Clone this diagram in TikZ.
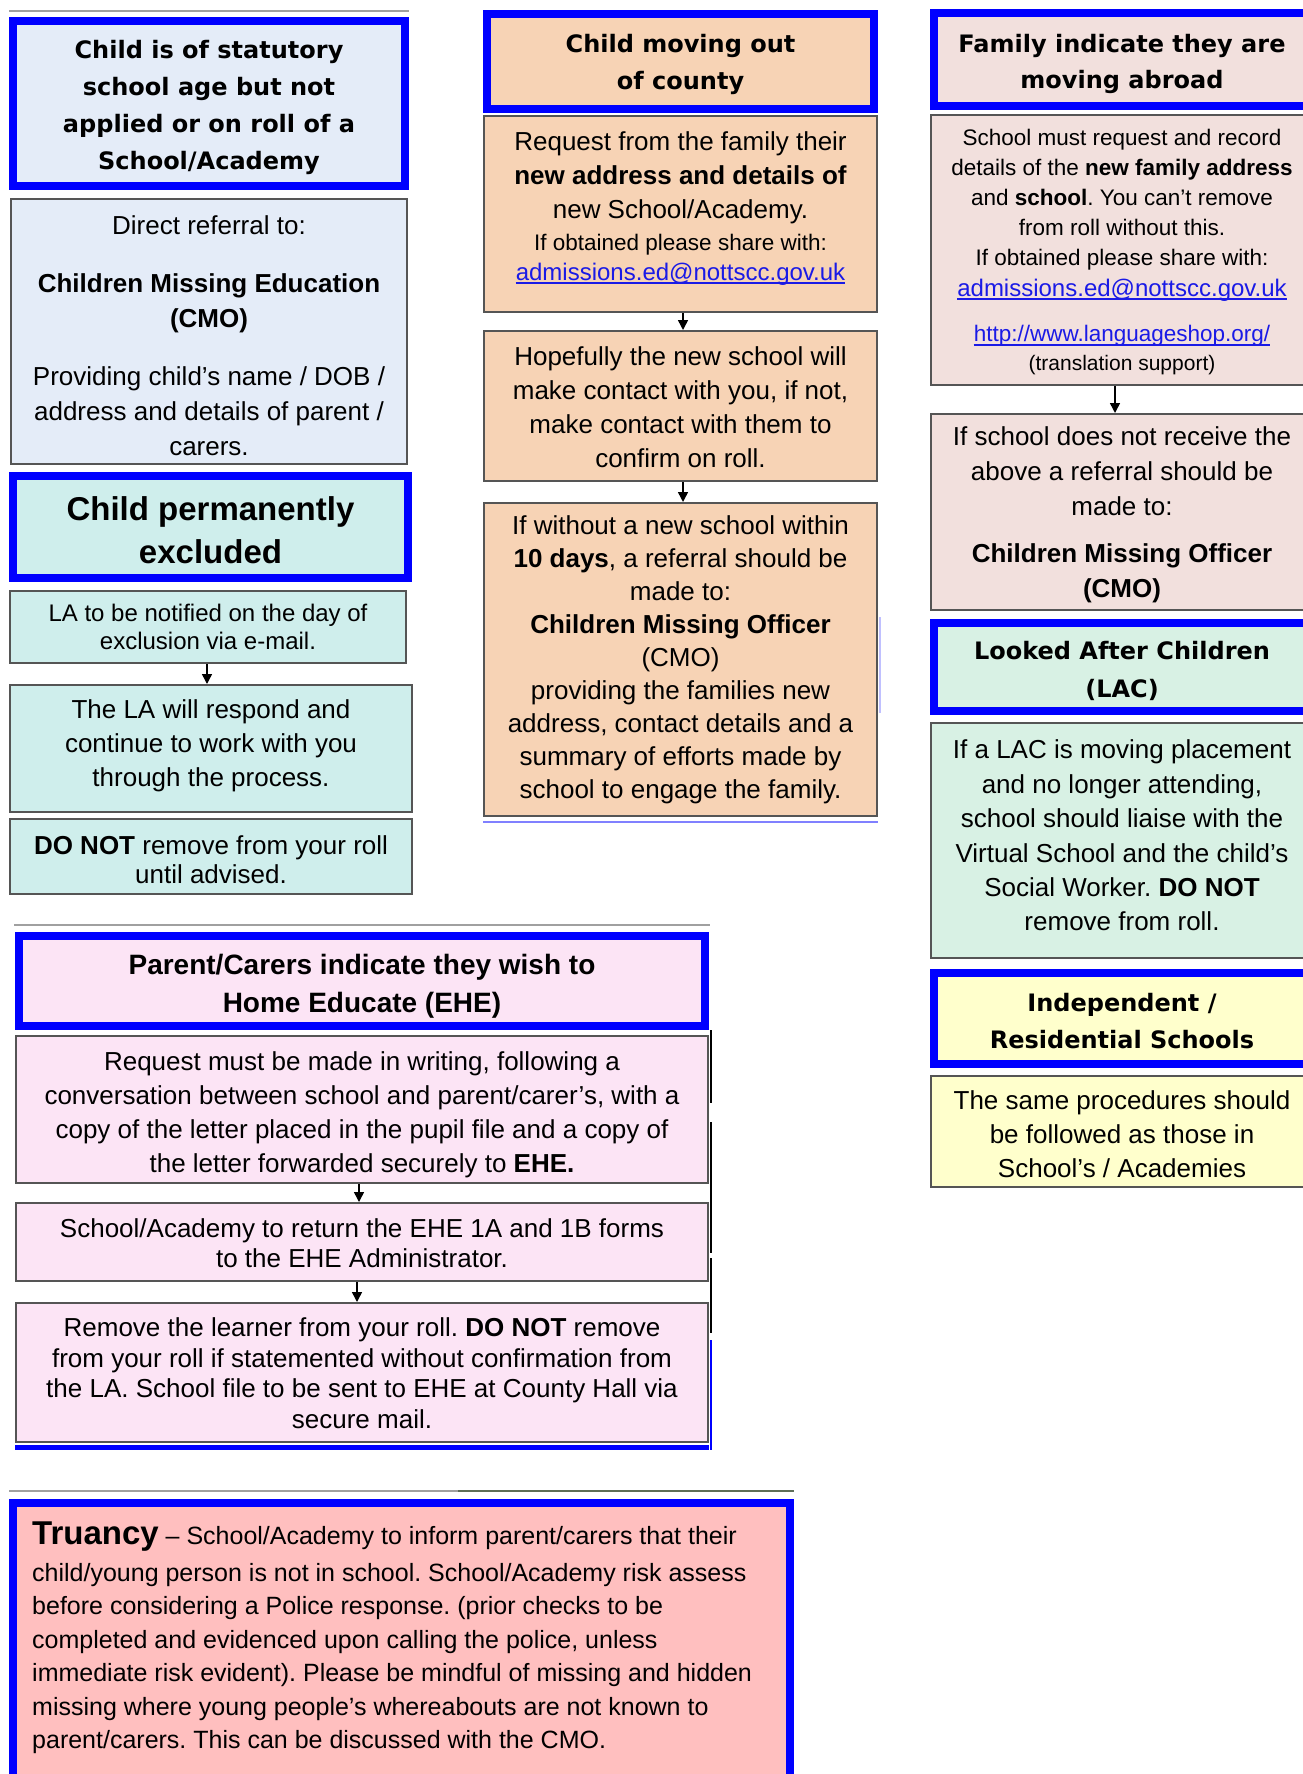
\documentclass[tikz,border=0pt]{standalone}
\usepackage{fontspec}
\setmainfont{Liberation Sans}
\newfontfamily\vfont{DejaVu Sans}
\usetikzlibrary{arrows.meta}
\newcommand\myfs[2]{\fontsize{#1}{#2}\selectfont}
\frenchspacing
\definecolor{hblue}{HTML}{0000FF}
\definecolor{bgray}{HTML}{555555}
\definecolor{cA}{HTML}{E4ECF8}
\definecolor{cT}{HTML}{CFEEEC}
\definecolor{cP}{HTML}{F7D3B5}
\definecolor{cR}{HTML}{F2E0DD}
\definecolor{cL}{HTML}{D8F1E4}
\definecolor{cY}{HTML}{FFFFCC}
\definecolor{cE}{HTML}{FCE4F5}
\definecolor{cTr}{HTML}{FFBFBF}
\definecolor{lnk}{HTML}{1A1AE6}
\definecolor{tgray}{HTML}{A0A0A0}
\definecolor{tgreen}{HTML}{5E6E58}
\definecolor{lblue}{HTML}{8080FF}
\tikzset{
 hbox/.style={draw=hblue, line width=8pt, rectangle, inner sep=0pt},
 cbox/.style={draw=bgray, line width=2pt, rectangle, inner sep=0pt},
 tx/.style={align=center, inner sep=0pt, text=black},
 hd/.style={align=center, inner sep=0pt, font=\vfont\bfseries\myfs{24}{37}},
 lk/.style={inner sep=0pt, text=lnk},
 arr/.style={line width=1.5pt, -{Triangle[width=10pt,length=10pt]}},
 sepline/.style={line width=2pt, tgray},
 uline/.style={line width=1.5pt, lnk},
}
\begin{document}
\frenchspacing
\begin{tikzpicture}[x=1pt,y=-1pt]
\useasboundingbox (0,0) rectangle (1303,1774);
\fill[white] (0,0) rectangle (1303,1774);
\clip (0,0) rectangle (1303,1774);

% ---------- Column 1 ----------
\draw[sepline] (9,11) -- (409,11);
\node[hbox, fill=cA, minimum width=392pt, minimum height=165pt] (A) at (209,103.5) {};
\node[hd] (At) at (209,107.5) {Child is of statutory\\school age but not\\applied or on roll of a\\School/Academy};

\node[cbox, fill=cA, minimum width=396pt, minimum height=265pt] (B) at (209,331.5) {};
\node[tx, font=\myfs{26}{35}] (Bt) at (209,335.5) {Direct referral to:\\[23pt]\textbf{Children Missing Education}\\\textbf{(CMO)}\\[23pt]Providing child’s name / DOB /\\address and details of parent /\\carers.};

\node[hbox, fill=cT, minimum width=395pt, minimum height=102pt] (C) at (210.5,527) {};
\node[tx, font=\bfseries\myfs{33}{43}] (Ct) at (210.5,530.5) {Child permanently\\excluded};

\node[cbox, fill=cT, minimum width=396pt, minimum height=72pt] (D) at (208,627) {};
\node[tx, font=\myfs{24}{28}] (Dt) at (208,627) {LA to be notified on the day of\\exclusion via e-mail.};

\node[cbox, fill=cT, minimum width=402pt, minimum height=127pt] (E) at (211,748.5) {};
\node[tx, font=\myfs{26}{34}] (Et) at (211,746) {The LA will respond and\\continue to work with you\\through the process.};
\draw[arr] (D.south -| 207,0) -- (E.north -| 207,0);

\node[cbox, fill=cT, minimum width=402pt, minimum height=75pt] (F) at (211,856.5) {};
\node[tx, font=\myfs{26}{29}] (Ft) at (211,859.5) {\textbf{DO NOT} remove from your roll\\until advised.};

% ---------- Column 2 ----------
\node[hbox, fill=cP, minimum width=387pt, minimum height=95pt] (G) at (680.5,61.5) {};
\node[hd] (Gt) at (680.5,64.5) {Child moving out\\of county};

\node[cbox, fill=cP, minimum width=393pt, minimum height=196pt] (H) at (680.5,214) {};
\node[tx, font=\myfs{26}{34}] (Ht) at (680.5,178) {Request from the family their\\\textbf{new address and details of}\\new School/Academy.};
\node[tx, font=\myfs{22.5}{26}] (Hs) at (680.5,245) {If obtained please share with:};
\node[lk, font=\myfs{24}{28}] (Hl) at (680.5,274) {admissions.ed@nottscc.gov.uk};
\draw[uline] ([yshift=-3pt]Hl.base west) -- ([yshift=-3pt]Hl.base east);

\node[cbox, fill=cP, minimum width=393pt, minimum height=150pt] (I) at (680.5,406) {};
\node[tx, font=\myfs{26}{34}] (It) at (680.5,407) {Hopefully the new school will\\make contact with you, if not,\\make contact with them to\\confirm on roll.};
\draw[arr] (H.south -| 683,0) -- (I.north -| 683,0);

\node[cbox, fill=cP, minimum width=393pt, minimum height=313pt] (J) at (680.5,659.5) {};
\node[tx, font=\myfs{26}{33}] (Jt) at (680.5,660) {If without a new school within\\\textbf{10 days}, a referral should be\\made to:\\\textbf{Children Missing Officer}\\(CMO)\\providing the families new\\address, contact details and a\\summary of efforts made by\\school to engage the family.};
\draw[arr] (I.south -| 683,0) -- (J.north -| 683,0);
\draw[line width=2pt, lblue] (483,822) -- (878,822);
\draw[line width=2pt, lblue!50] (880,617) -- (880,713);

% ---------- Column 3 ----------
\node[hbox, fill=cR, minimum width=376pt, minimum height=93pt] (K) at (1122,59.5) {};
\node[hd, font=\vfont\bfseries\myfs{24}{36}] (Kt) at (1122,64) {Family indicate they are\\moving abroad};

\node[cbox, fill=cR, minimum width=382pt, minimum height=270pt] (L) at (1122,250) {};
\node[tx, font=\myfs{22.5}{30}] (Lt) at (1122,200) {School must request and record\\details of the \textbf{new family address}\\and \textbf{school}. You can’t remove\\from roll without this.\\If obtained please share with:};
\node[lk, font=\myfs{24}{28}] (Ll) at (1122,290) {admissions.ed@nottscc.gov.uk};
\draw[uline] ([yshift=-3pt]Ll.base west) -- ([yshift=-3pt]Ll.base east);
\node[lk, font=\myfs{22.5}{26}] (Ll2) at (1122,336) {http://www.languageshop.org/};
\draw[uline] ([yshift=-3pt]Ll2.base west) -- ([yshift=-3pt]Ll2.base east);
\node[tx, font=\myfs{21}{25}] (Lt2) at (1122,365) {(translation support)};

\node[cbox, fill=cR, minimum width=382pt, minimum height=196pt] (M) at (1122,512) {};
\node[tx, font=\myfs{26}{35}] (Mt) at (1122,514.5) {If school does not receive the\\above a referral should be\\made to:\\[12pt]\textbf{Children Missing Officer}\\\textbf{(CMO)}};
\draw[arr] (L.south -| 1115,0) -- (M.north -| 1115,0);

\node[hbox, fill=cL, minimum width=376pt, minimum height=88pt] (N) at (1122,667) {};
\node[hd, font=\vfont\bfseries\myfs{24}{38}] (Nt) at (1122,671) {Looked After Children\\(LAC)};

\node[cbox, fill=cL, minimum width=382pt, minimum height=235pt] (O) at (1122,840.5) {};
\node[tx, font=\myfs{26}{34.4}] (Ot) at (1122,835.5) {If a LAC is moving placement\\and no longer attending,\\school should liaise with the\\Virtual School and the child’s\\Social Worker. \textbf{DO NOT}\\remove from roll.};

\node[hbox, fill=cY, minimum width=376pt, minimum height=91pt] (P) at (1122,1018.5) {};
\node[hd] (Pt) at (1122,1021.5) {Independent /\\Residential Schools};

\node[cbox, fill=cY, minimum width=382pt, minimum height=111pt] (Q) at (1122,1131.5) {};
\node[tx, font=\myfs{26}{34}] (Qt) at (1122,1134) {The same procedures should\\be followed as those in\\School’s / Academies};

% ---------- EHE ----------
\draw[sepline] (14,925) -- (710,925);
\node[hbox, fill=cE, minimum width=686pt, minimum height=90pt] (R) at (362,981) {};
\node[tx, font=\bfseries\myfs{28}{38}] (Rt) at (362,986) {Parent/Carers indicate they wish to\\Home Educate (EHE)};

\node[cbox, fill=cE, minimum width=692pt, minimum height=147pt] (S) at (362,1109.5) {};
\node[tx, font=\myfs{26}{34}] (St) at (362,1115) {Request must be made in writing, following a\\conversation between school and parent/carer’s, with a\\copy of the letter placed in the pupil file and a copy of\\the letter forwarded securely to \textbf{EHE.}};

\node[cbox, fill=cE, minimum width=692pt, minimum height=78pt] (T) at (362,1242) {};
\node[tx, font=\myfs{26}{30}] (Tt) at (362,1243) {School/Academy to return the EHE 1A and 1B forms\\to the EHE Administrator.};
\draw[arr] (S.south -| 359,0) -- (T.north -| 359,0);

\node[cbox, fill=cE, minimum width=692pt, minimum height=139pt] (U) at (362,1372.5) {};
\node[tx, font=\myfs{26}{30.5}] (Ut) at (362,1373) {Remove the learner from your roll. \textbf{DO NOT} remove\\from your roll if statemented without confirmation from\\the LA. School file to be sent to EHE at County Hall via\\secure mail.};
\draw[arr] (T.south -| 357,0) -- (U.north -| 357,0);
\draw[line width=5pt, hblue] (15,1447) -- (709,1447);
\draw[line width=2.5pt, black] (711,1030) -- (711,1103);
\draw[line width=2.5pt, black] (711,1122) -- (711,1253);
\draw[line width=2.5pt, black] (711,1258) -- (711,1333);
\draw[line width=2.5pt, hblue] (711,1340) -- (711,1450);

% ---------- Truancy ----------
\draw[sepline] (9,1491) -- (458,1491);
\draw[line width=2pt, tgreen] (458,1491) -- (794,1491);
\node[hbox, fill=cTr, minimum width=777pt, minimum height=297pt] (V) at (401.5,1651.5) {};
\node[tx, align=left, anchor=north west, font=\myfs{25}{33.5}] (Vt) at (32,1522) {{\bfseries\myfs{33}{33}Truancy} – School/Academy to inform parent/carers that their\\[3pt]child/young person is not in school. School/Academy risk assess\\before considering a Police response. (prior checks to be\\completed and evidenced upon calling the police, unless\\immediate risk evident). Please be mindful of missing and hidden\\missing where young people's whereabouts are not known to\\parent/carers. This can be discussed with the CMO.};
\end{tikzpicture}
\end{document}
